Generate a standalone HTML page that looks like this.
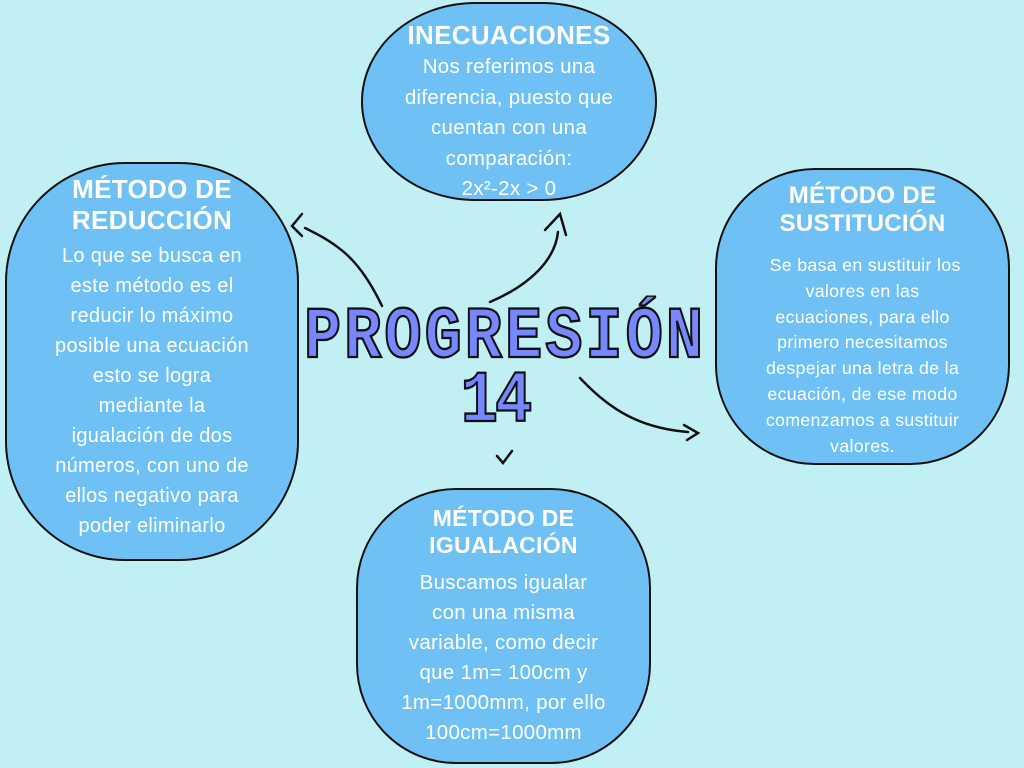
<!DOCTYPE html>
<html><head><meta charset="utf-8"><style>
body{margin:0;width:1024px;height:768px;background:#c1f0f4;position:relative;overflow:hidden;font-family:"Liberation Sans",sans-serif}
.b{position:absolute;background:#6fc1f5;border:2px solid #111;box-sizing:border-box;color:#fff;text-align:center}
.h{font-family:"Liberation Sans",sans-serif;font-weight:bold;letter-spacing:1px}
.t{position:absolute;left:0;right:0;text-align:center;letter-spacing:0.3px}
.title{position:absolute;font-family:"Liberation Mono",monospace;font-weight:bold;color:#7788ff;-webkit-text-stroke:2px #111;text-align:center;transform:scaleY(1.18)}
</style></head><body>
<div class="b" style="left:361px;top:2px;width:296px;height:199px;border-radius:115px/100px">
 <div class="t h" style="top:16px;font-size:26px">INECUACIONES</div>
 <div class="t" style="top:48px;font-size:20.5px;line-height:30.5px">Nos referimos una<br>diferencia, puesto que<br>cuentan con una<br>comparación:<br>2x²-2x &gt; 0</div>
</div>
<div class="b" style="left:5px;top:162px;width:294px;height:399px;border-radius:120px">
 <div class="t h" style="top:10px;font-size:26px;line-height:31px">MÉTODO DE<br>REDUCCIÓN</div>
 <div class="t" style="top:77px;font-size:20px;line-height:30px">Lo que se busca en<br>este método es el<br>reducir lo máximo<br>posible una ecuación<br>esto se logra<br>mediante la<br>igualación de dos<br>números, con uno de<br>ellos negativo para<br>poder eliminarlo</div>
</div>
<div class="b" style="left:715px;top:168px;width:295px;height:297px;border-radius:100px">
 <div class="t h" style="top:12px;font-size:24px;line-height:28px">MÉTODO DE<br>SUSTITUCIÓN</div>
 <div class="t" style="top:83px;font-size:17.8px;line-height:25.8px">&nbsp;Se basa en sustituir los<br>valores en las<br>ecuaciones, para ello<br>primero necesitamos<br>despejar una letra de la<br>ecuación, de ese modo<br>comenzamos a sustituir<br>valores.</div>
</div>
<div class="b" style="left:356px;top:488px;width:295px;height:276px;border-radius:100px">
 <div class="t h" style="top:15px;font-size:23px;line-height:27px">MÉTODO DE<br>IGUALACIÓN</div>
 <div class="t" style="top:78px;font-size:20.5px;line-height:30px">Buscamos igualar<br>con una misma<br>variable, como decir<br>que 1m= 100cm y<br>1m=1000mm, por ello<br>100cm=1000mm</div>
</div>
<div class="title" style="left:300px;top:300px;width:410px;font-size:62px;line-height:76px;letter-spacing:3px">PROGRESIÓN</div>
<div class="title" style="left:440px;top:364px;width:110px;font-size:62px;line-height:76px;letter-spacing:-3px">14</div>
<svg style="position:absolute;left:0;top:0" width="1024" height="768" fill="none" stroke="#111" stroke-width="2.5" stroke-linecap="round">
<path d="M382 306 C360 260,340 245,305 228"/>
<path d="M302 214 L292 226 L302 236"/>
<path d="M490 302 C530 285,555 260,558 232"/>
<path d="M545 230 L560 214 L566 235"/>
<path d="M580 378 C610 410,640 428,688 432"/>
<path d="M684 425 L698 433 L687 440"/>
<path d="M497 456 L503 463 L512 451"/>
</svg>
</body></html>
